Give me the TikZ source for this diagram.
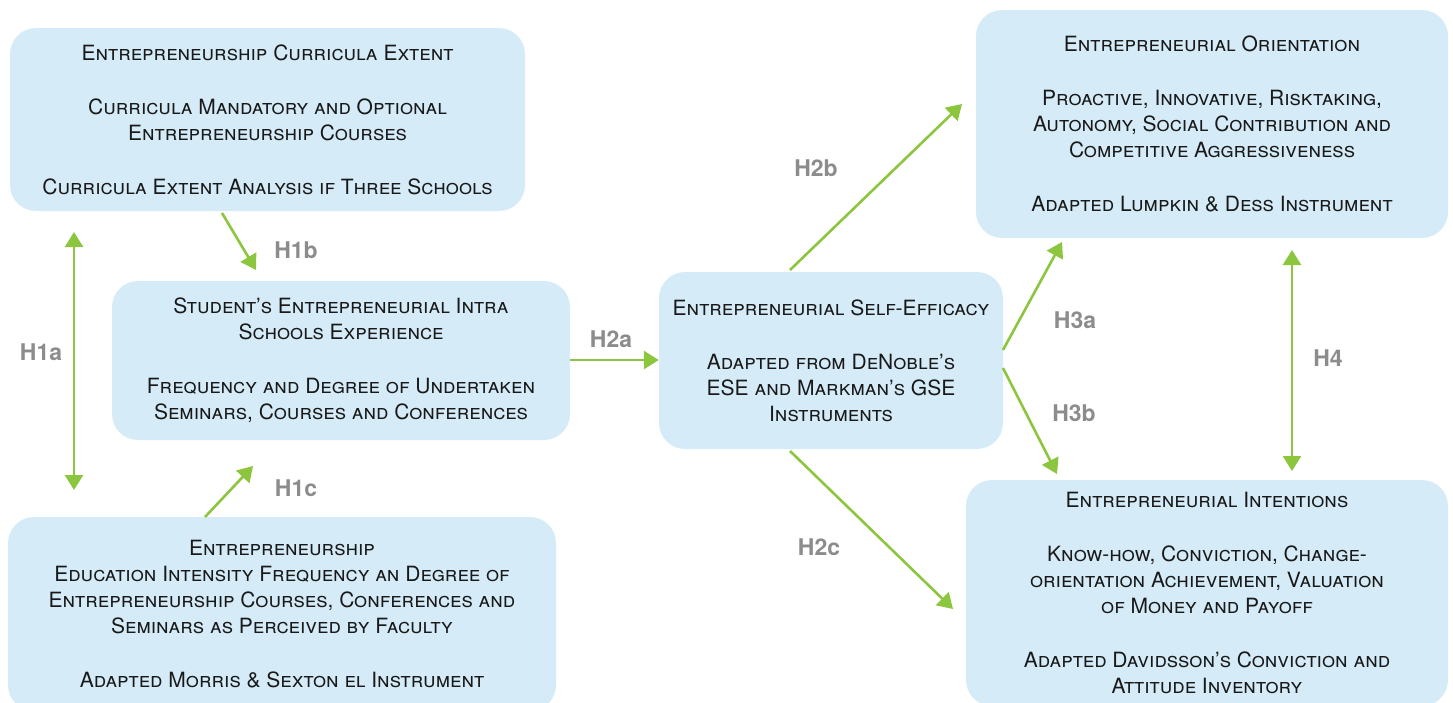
\documentclass[tikz,border=0pt]{standalone}
\usepackage{fontspec}
\setmainfont{TeX Gyre Heros}
\usetikzlibrary{arrows.meta}
\definecolor{boxblue}{HTML}{D5ECF8}
\definecolor{arrgreen}{HTML}{8CC63F}
\definecolor{hgray}{HTML}{8C8C8C}
\tikzset{
  box/.style={draw=none, fill=boxblue, rounded corners=26pt, align=center, font=\fontsize{21}{26}\selectfont\scshape, text=black!90, inner sep=0pt},
  link/.style={draw=arrgreen, line width=2.6pt, -{Triangle[length=15pt,width=18pt]}},
  dlink/.style={draw=arrgreen, line width=2.6pt, {Triangle[length=15pt,width=18pt]}-{Triangle[length=15pt,width=18pt]}},
  hlabel/.style={font=\fontsize{23}{26}\selectfont\bfseries, text=hgray}
}
\newcommand{\gap}{\\[28pt]}
\begin{document}
\begin{tikzpicture}[x=1pt,y=-1pt]
\useasboundingbox (0,0) rectangle (1453,702);
\node[box, minimum width=515pt, minimum height=183pt] (A) at (267.5,119.5)
  {Entrepreneurship Curricula Extent\gap Curricula Mandatory and Optional\\Entrepreneurship Courses\gap Curricula Extent Analysis if Three Schools};
\node[box, minimum width=458pt, minimum height=159pt] (B) at (341,360.5)
  {Student’s Entrepreneurial Intra\\Schools Experience\gap Frequency and Degree of Undertaken\\Seminars, Courses and Conferences};
\node[box, minimum width=548pt, minimum height=194pt] (C) at (282,614)
  {Entrepreneurship\\Education Intensity Frequency an Degree of\\Entrepreneurship Courses, Conferences and\\Seminars as Perceived by Faculty\gap Adapted Morris \& Sexton el Instrument};
\node[box, minimum width=344pt, minimum height=177pt] (D) at (831,360.5)
  {Entrepreneurial Self-Efficacy\gap Adapted from DeNoble’s\\{\upshape ESE} and Markman’s {\upshape GSE}\\Instruments};
\node[box, minimum width=472pt, minimum height=228pt] (E) at (1212,124)
  {Entrepreneurial Orientation\gap Proactive, Innovative, Risktaking,\\Autonomy, Social Contribution and\\Competitive Aggressiveness\gap Adapted Lumpkin \& Dess Instrument};
\node[box, minimum width=482pt, minimum height=226pt] (F) at (1207,593)
  {Entrepreneurial Intentions\gap Know-how, Conviction, Change-\\orientation Achievement, Valuation\\of Money and Payoff\gap Adapted Davidsson’s Conviction and\\Attitude Inventory};

\coordinate (h1a1) at (74,232); \coordinate (h1a2) at (74,490);
\draw[dlink] (h1a1) -- (h1a2);
\coordinate (h1b1) at (222,213); \coordinate (h1b2) at (256,270);
\draw[link] (h1b1) -- (h1b2);
\coordinate (h1c1) at (205,517); \coordinate (h1c2) at (253,466);
\draw[link] (h1c1) -- (h1c2);
\draw[link] (B.east |- 0,360) -- (D.west |- 0,360);
\coordinate (h2b1) at (790,270); \coordinate (h2b2) at (962,104);
\draw[link] (h2b1) -- (h2b2);
\coordinate (h2c1) at (790,451); \coordinate (h2c2) at (953,609);
\draw[link] (h2c1) -- (h2c2);
\coordinate (h3a1) at (1003,350); \coordinate (h3a2) at (1062,242);
\draw[link] (h3a1) -- (h3a2);
\coordinate (h3b1) at (1003,368); \coordinate (h3b2) at (1057,474);
\draw[link] (h3b1) -- (h3b2);
\coordinate (h41) at (1292,250); \coordinate (h42) at (1292,471);
\draw[dlink] (h41) -- (h42);

\node[hlabel] (l1a) at (41,352) {H1a};
\node[hlabel] (l1b) at (296,250) {H1b};
\node[hlabel] (l1c) at (296,488) {H1c};
\node[hlabel] (l2a) at (611,339) {H2a};
\node[hlabel] (l2b) at (816,168) {H2b};
\node[hlabel] (l2c) at (819,547) {H2c};
\node[hlabel] (l3a) at (1075,320) {H3a};
\node[hlabel] (l3b) at (1074,413) {H3b};
\node[hlabel] (l4) at (1328,358) {H4};
\end{tikzpicture}
\end{document}
